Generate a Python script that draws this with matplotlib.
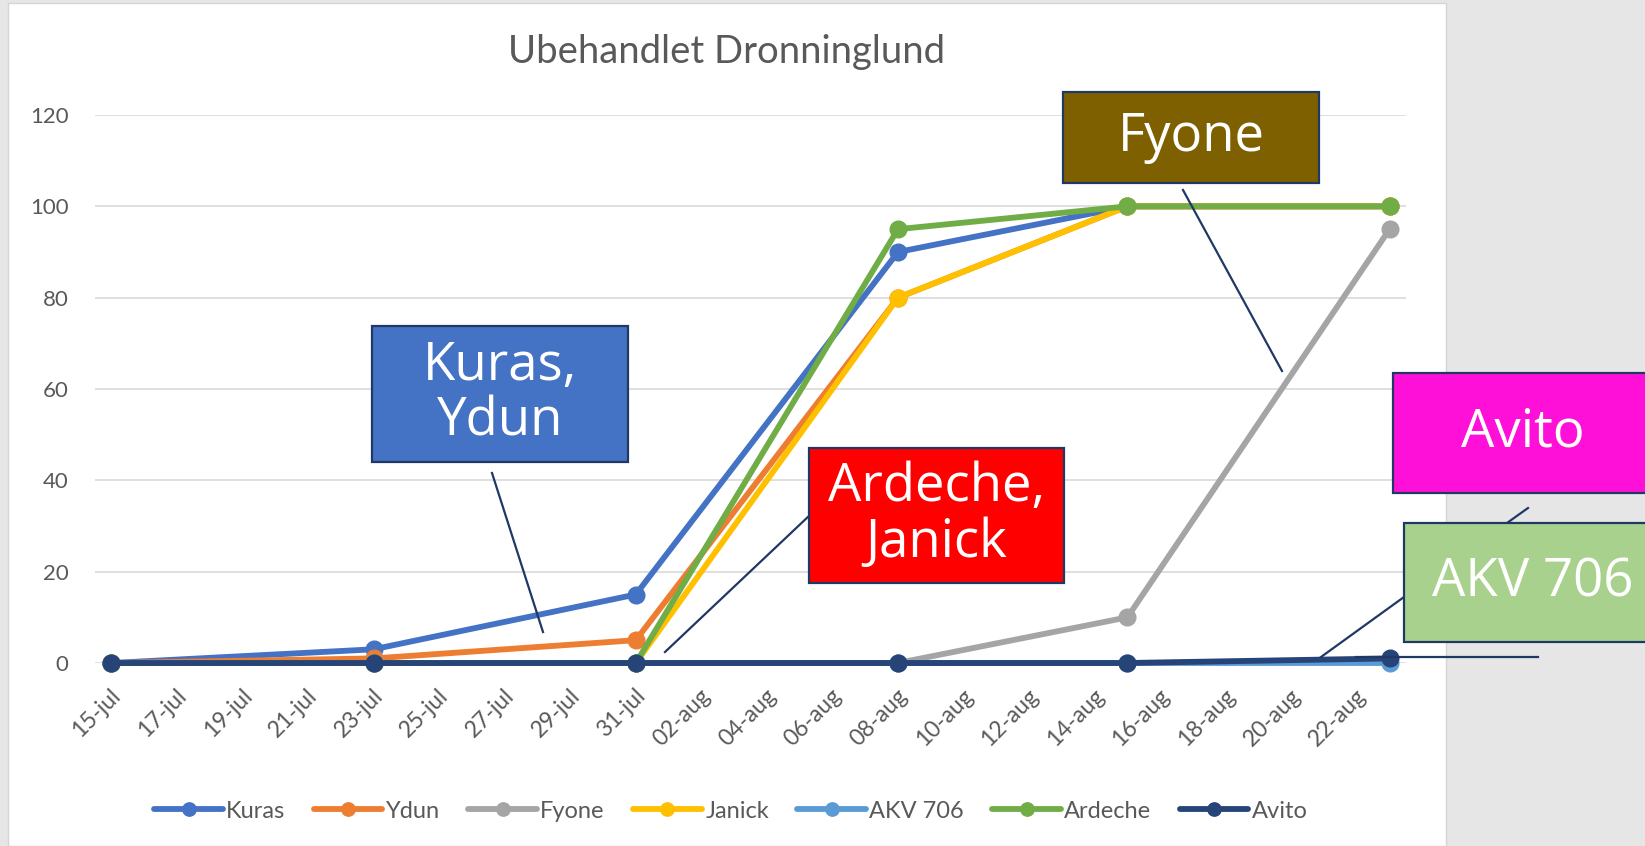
import matplotlib
matplotlib.use("Agg")
import matplotlib.pyplot as plt
import matplotlib.dates as mdates
import matplotlib.transforms as mtransforms
from matplotlib.patches import Rectangle
from matplotlib.lines import Line2D
import pandas as pd

# ---------------- data ----------------
dates = ["2021-07-15", "2021-07-23", "2021-07-31", "2021-08-08", "2021-08-15", "2021-08-23"]
kuras   = [0, 3, 15, 90, 100, 100]
ydun    = [0, 1, 5, 80, 100, 100]
fyone   = [0, 0, 0, 0, 10, 95]
janick  = [0, 0, 0, 80, 100, 100]
akv706  = [0, 0, 0, 0, 0, 0]
ardeche = [0, 0, 0, 95, 100, 100]
avito   = [0, 0, 0, 0, 0, 1]

series_names = ["Kuras", "Ydun", "Fyone", "Janick", "AKV 706", "Ardeche", "Avito"]
series_values = [kuras, ydun, fyone, janick, akv706, ardeche, avito]
series_colors = ["#4472C4", "#ED7D31", "#A5A5A5", "#FFC000", "#5B9BD5", "#70AD47", "#264478"]

tick_start, tick_end = "2021-07-15", "2021-08-22"
month_names = {7: "jul", 8: "aug"}
y_ticks = [0, 20, 40, 60, 80, 100, 120]
title = "Ubehandlet Dronninglund"

callouts = [  # text, box colour
    ("Kuras,\nYdun", "#4472C4"),
    ("Ardeche,\nJanick", "#FF0000"),
    ("Fyone", "#7F6000"),
    ("Avito", "#FF10D8"),
    ("AKV 706", "#A9D18E"),
]

# ---------------- figure ----------------
W, H = 1645, 846
fig = plt.figure(figsize=(W / 100, H / 100), dpi=100, facecolor="#e6e6e6")

def fx(x):
    return x / W

def fy(y):
    return 1 - y / H

# white chart area
fig.patches.append(Rectangle((fx(8), 0), (1446 - 8) / W, (H - 3) / H,
                             transform=fig.transFigure, facecolor="white",
                             edgecolor="#d4d4d4", lw=1.0, zorder=-5))

ax = fig.add_axes([fx(95), fy(663), (1406 - 95) / W, (663 - 115) / H])
ax.set_facecolor("none")
ax.set_zorder(1)

x = pd.to_datetime(dates)
for name, vals, col in zip(series_names, series_values, series_colors):
    ax.plot(x, vals, color=col, lw=4.2, marker="o", markersize=12,
            solid_capstyle="round", label=name, clip_on=False, zorder=3)

start = pd.Timestamp(dates[0])
end = pd.Timestamp(dates[-1])
ax.set_xlim(mdates.date2num(start) - 0.5, mdates.date2num(end) + 0.5)
ax.set_ylim(0, 120)

ticks = pd.date_range(tick_start, tick_end, freq="2D")
ax.set_xticks(ticks)
ax.set_xticklabels([f"{d.day:02d}-{month_names[d.month]}" for d in ticks],
                   rotation=45, ha="right", va="center", rotation_mode="anchor",
                   fontsize=16.5, color="#595959", family="Lato")
ax.set_yticks(y_ticks)
ax.set_yticklabels([str(v) for v in y_ticks], fontsize=16, color="#595959", family="Lato")
ax.tick_params(axis="x", length=0, pad=21)
ax.tick_params(axis="y", length=0, pad=19)
shift = mtransforms.ScaledTranslation(6 / 100, 0, fig.dpi_scale_trans)
for lab in ax.get_xticklabels():
    lab.set_transform(lab.get_transform() + shift)
for s in ax.spines.values():
    s.set_visible(False)
ax.yaxis.grid(True, color="#d9d9d9", lw=1.2)
ax.set_axisbelow(True)

fig.text(fx(727), fy(52), title, ha="center", va="center", fontsize=27.5,
         color="#595959", family="Lato")

leg = fig.legend(loc="center", bbox_to_anchor=(fx(731), fy(811)), ncol=7,
                 frameon=False, handlelength=2.9, handletextpad=0.15,
                 columnspacing=1.2, markerscale=0.8,
                 prop={"family": "Lato", "size": 17})
for t in leg.get_texts():
    t.set_color("#595959")

# ---------------- callouts ----------------
EDGE = "#1F3864"

def leader(x0, y0, x1, y1):
    fig.add_artist(Line2D([fx(x0), fx(x1)], [fy(y0), fy(y1)], transform=fig.transFigure,
                          color=EDGE, lw=1.6, zorder=9))

def box(x0, y0, x1, y1, text, color, fs=38):
    fig.add_artist(Rectangle((fx(x0), fy(y1)), (x1 - x0) / W, (y1 - y0) / H,
                             transform=fig.transFigure, facecolor=color,
                             edgecolor=EDGE, lw=1.6, zorder=10))
    fig.text(fx((x0 + x1) / 2), fy((y0 + y1) / 2), text, ha="center", va="center",
             color="white", fontsize=fs, family="Open Sans", linespacing=1.05,
             zorder=11)

leader(492, 473, 543, 632)
box(372, 326, 628, 462, *callouts[0])
leader(810, 515, 665, 652)
box(809, 448, 1064, 583, *callouts[1])
leader(1183, 190, 1282, 371)
box(1063, 92, 1319, 183, *callouts[2])
box(1393, 373, 1652, 493, *callouts[3])
leader(1528, 508, 1500, 528)
leader(1356, 657, 1538, 657)
box(1404, 523, 1662, 642, *callouts[4])
leader(1404, 597, 1321, 657)

fig.savefig("out.png", dpi=100, facecolor=fig.get_facecolor())
